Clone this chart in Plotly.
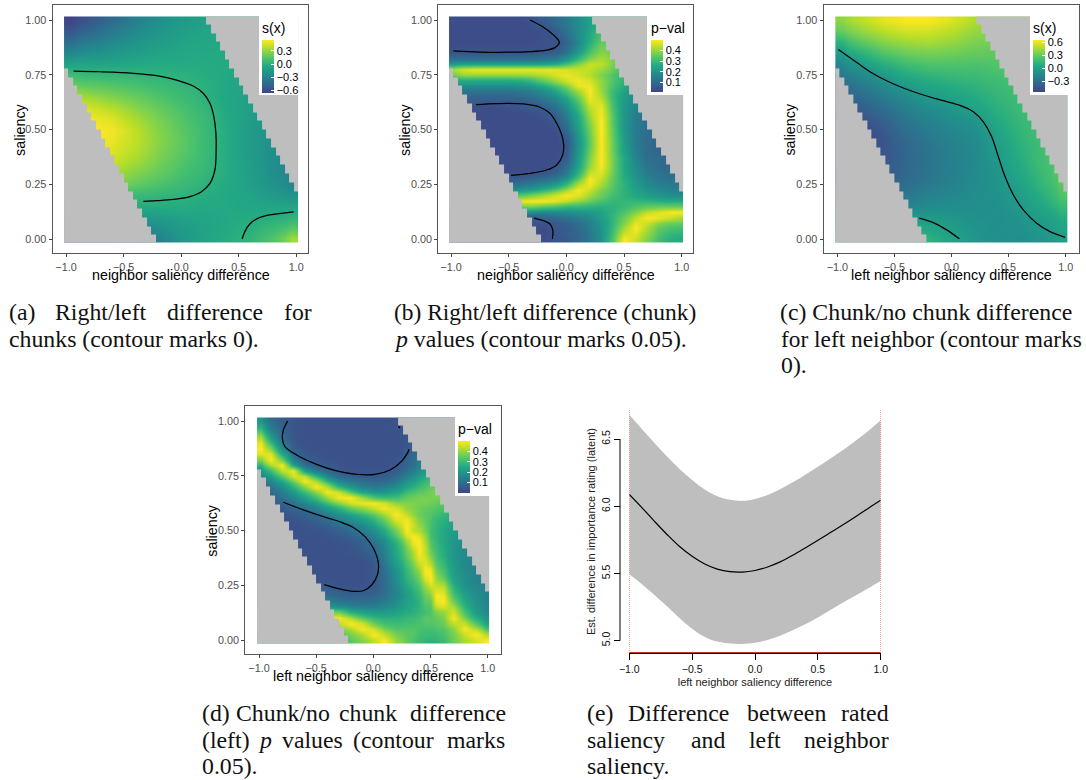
import plotly.graph_objects as go

# ---------- data ----------
x_ticks = [-1.0, -0.5, 0.0, 0.5, 1.0]
y_ticks = [0.0, 0.25, 0.5, 0.75, 1.0]

# smooth surfaces: columns x=-1..1 (0.2), rows y=1..0 (0.05)
x_s = [-1, -.8, -.6, -.4, -.2, 0, .2, .4, .6, .8, 1]
y_s = [1, .95, .9, .85, .8, .75, .7, .65, .6, .55, .5, .45, .4, .35, .3, .25, .2, .15, .1, .05, 0]
z_a = [
[-.66,-.55,-.43,-.31,-.21,-.15,-.10,-.08,-.08,-.08,-.08],
[-.55,-.45,-.34,-.25,-.17,-.12,-.08,-.07,-.07,-.07,-.07],
[-.41,-.33,-.25,-.18,-.13,-.09,-.06,-.05,-.06,-.06,-.06],
[-.26,-.21,-.16,-.12,-.08,-.06,-.05,-.05,-.05,-.05,-.05],
[-.09,-.08,-.07,-.05,-.04,-.04,-.04,-.05,-.06,-.06,-.06],
[.08,.05,.04,.03,.01,.0,-.03,-.05,-.07,-.08,-.08],
[.22,.18,.15,.11,.07,.03,-.01,-.06,-.09,-.10,-.10],
[.38,.33,.26,.20,.13,.07,.00,-.07,-.11,-.13,-.13],
[.50,.45,.38,.28,.19,.11,.03,-.06,-.12,-.15,-.16],
[.56,.53,.47,.35,.24,.14,.05,-.05,-.13,-.18,-.20],
[.58,.56,.52,.40,.27,.16,.06,-.04,-.14,-.20,-.24],
[.58,.56,.50,.40,.28,.17,.06,-.04,-.14,-.22,-.27],
[.56,.54,.47,.38,.26,.16,.06,-.04,-.14,-.23,-.29],
[.54,.50,.42,.33,.23,.13,.05,-.04,-.13,-.23,-.30],
[.50,.44,.35,.26,.18,.10,.03,-.04,-.12,-.22,-.30],
[.40,.33,.25,.18,.12,.06,.0,-.05,-.11,-.20,-.27],
[.25,.18,.12,.06,.03,.01,-.03,-.05,-.09,-.15,-.19],
[.08,.03,-.02,-.04,-.03,-.03,-.05,-.05,-.07,-.08,-.08],
[-.1,-.12,-.14,-.15,-.13,-.09,-.08,-.05,-.04,-.02,.01],
[-.28,-.3,-.3,-.28,-.22,-.14,-.09,-.04,-.01,.06,.15],
[-.4,-.42,-.4,-.36,-.3,-.16,-.08,-.03,.02,.14,.33],
]
z_c = [
[.40,.50,.60,.65,.65,.58,.48,.42,.40,.40,.40],
[.30,.41,.50,.56,.56,.50,.42,.38,.36,.36,.36],
[.12,.27,.38,.44,.46,.42,.36,.33,.33,.33,.33],
[-.02,.11,.24,.32,.35,.33,.30,.29,.29,.30,.30],
[-.14,-.03,.09,.19,.24,.24,.23,.25,.26,.27,.27],
[-.24,-.14,-.04,.07,.13,.16,.18,.21,.23,.25,.25],
[-.32,-.24,-.13,-.03,.04,.08,.12,.17,.21,.23,.24],
[-.40,-.32,-.22,-.12,-.04,.02,.07,.14,.19,.22,.24],
[-.46,-.39,-.30,-.19,-.11,-.05,.02,.11,.18,.22,.24],
[-.50,-.46,-.37,-.25,-.17,-.11,-.05,.07,.16,.22,.24],
[-.54,-.52,-.42,-.29,-.21,-.15,-.10,.03,.14,.21,.24],
[-.54,-.52,-.44,-.33,-.24,-.17,-.13,.0,.12,.21,.26],
[-.54,-.52,-.44,-.34,-.26,-.19,-.14,-.02,.10,.20,.27],
[-.52,-.5,-.44,-.34,-.26,-.19,-.14,-.04,.08,.20,.28],
[-.5,-.48,-.40,-.33,-.25,-.19,-.13,-.06,.05,.18,.29],
[-.45,-.42,-.36,-.30,-.23,-.17,-.13,-.07,.02,.15,.28],
[-.38,-.35,-.30,-.24,-.18,-.15,-.12,-.08,-.01,.10,.25],
[-.28,-.25,-.22,-.17,-.12,-.11,-.11,-.09,-.04,.06,.17],
[-.15,-.13,-.1,-.05,-.03,-.06,-.09,-.10,-.07,.0,.08],
[.05,.05,.05,.06,.05,-.02,-.07,-.10,-.08,-.04,.03],
[.2,.2,.2,.17,.12,.02,-.05,-.1,-.1,-.06,-.01],
]

# p-value surfaces in percent: columns x=-1..1 (0.1), rows y=1..0 (0.025)
x_p = [-1, -.9, -.8, -.7, -.6, -.5, -.4, -.3, -.2, -.1, 0, .1, .2, .3, .4, .5, .6, .7, .8, .9, 1]
y_p = [1, .975, .95, .925, .9, .875, .85, .825, .8, .775, .75, .725, .7, .675, .65, .625, .6, .575, .55, .525, .5,
       .475, .45, .425, .4, .375, .35, .325, .3, .275, .25, .225, .2, .175, .15, .125, .1, .075, .05, .025, 0]
z_b = [
[3,3,3,3,3,3,3,5,7,10,14,19,24,28,28,28,28,28,28,28,28],
[3,3,3,3,3,3,3,4,5,9,13,18,24,29,30,30,30,30,30,30,30],
[3,3,3,3,3,3,3,3,4,6,12,18,25,31,32,32,32,32,32,32,32],
[3,3,3,3,3,3,3,3,4,5,11,18,26,33,34,34,34,34,34,34,34],
[3,3,3,3,3,3,3,3,4,4,8,17,27,35,36,35,35,35,35,35,35],
[4,4,4,4,4,4,4,4,4,5,10,19,30,37,37,36,35,35,35,35,35],
[5,5,5,5,5,5,5,5,6,7,13,23,33,39,37,35,34,34,34,34,34],
[11,11,11,11,11,11,11,11,12,14,20,29,38,42,38,35,32,32,32,32,32],
[22,24,24,24,24,24,24,24,24,26,32,39,45,44,38,33,30,30,30,30,30],
[42,46,48,48,48,48,48,48,48,48,46,45,44,41,36,31,28,28,28,28,28],
[36,40,40,40,40,40,40,41,43,46,49,46,43,38,33,29,26,26,26,26,26],
[26,26,26,26,26,26,27,30,35,41,46,49,46,40,33,28,24,23,23,23,23],
[18,18,18,18,18,18,19,21,25,31,38,48,49,40,32,26,22,21,21,21,21],
[12,12,12,12,12,12,13,15,18,24,32,41,50,41,30,24,20,19,19,19,19],
[8,8,8,8,8,8,9,11,14,18,26,36,49,43,30,22,18,17,17,17,17],
[6,6,6,6,6,6,7,8,11,15,22,33,47,46,31,21,17,15,15,15,15],
[3,3,3,3,3,4,5,6,7,11,19,30,44,48,32,21,16,14,14,14,14],
[3,3,3,3,3,3,3,4,5,8,16,27,42,49,33,21,15,13,13,13,13],
[3,3,3,3,3,3,3,3,4,6,14,25,40,50,34,21,14,12,12,12,12],
[3,3,3,3,3,3,3,3,3,5,12,24,38,50,34,21,14,11,11,11,11],
[3,3,3,3,3,3,3,3,3,4,10,23,37,50,35,21,14,11,10,10,10],
[3,3,3,3,3,3,3,3,3,3,7,21,36,50,35,22,14,10,10,10,10],
[3,3,3,3,3,3,3,3,3,3,6,20,35,50,36,22,14,10,9,9,9],
[3,3,3,3,3,3,3,3,3,3,5,20,35,50,36,23,14,10,9,9,9],
[3,3,3,3,3,3,3,3,3,3,6,21,36,50,36,23,15,10,9,9,9],
[3,3,3,3,3,3,3,3,3,3,7,22,38,50,37,25,16,11,10,9,9],
[3,3,3,3,3,3,3,3,3,4,9,23,39,50,37,25,17,12,10,9,9],
[3,3,3,3,3,3,3,3,3,5,12,25,41,49,37,25,18,13,10,9,9],
[4,4,4,4,4,4,4,5,6,8,15,28,45,47,36,26,19,14,12,11,11],
[6,6,6,6,6,6,7,9,11,14,21,35,50,44,35,27,21,16,13,12,12],
[11,11,11,11,11,11,13,15,18,22,30,43,49,42,34,28,22,18,15,14,13],
[19,19,19,19,19,19,21,24,28,34,42,50,45,38,33,28,24,20,18,16,15],
[33,33,33,33,33,33,35,38,42,46,50,47,41,36,31,28,25,23,21,19,19],
[47,47,47,47,47,48,49,50,50,48,44,40,36,32,29,29,29,28,27,26,26],
[34,34,34,34,34,35,36,37,34,32,29,29,28,27,28,30,33,35,36,36,36],
[19,19,19,19,19,20,20,18,17,18,19,20,21,24,28,33,38,44,47,50,50],
[10,10,10,10,10,10,10,6,8,10,12,15,18,23,29,36,44,50,48,45,42],
[5,5,5,5,5,5,5,4,5,6,8,11,15,21,29,38,48,45,39,36,36],
[3,3,3,3,3,3,3,3,3,5,7,10,14,20,30,42,50,42,35,32,31],
[3,3,3,3,3,3,3,3,3,5,7,9,13,20,31,46,47,40,33,29,28],
[3,3,3,3,3,3,3,3,3,5,6,9,13,20,33,50,45,38,31,27,26],
]
z_d_base = [
[20,10,6,4,3,3,3,3,3,3,3,3,3,4,5,7,9,11,12,12,12],
[26,13,7,4,3,3,3,3,3,3,3,3,4,4,6,9,12,14,15,15,15],
[34,17,8,4,3,3,3,3,3,3,3,3,3,4,7,11,15,18,19,19,19],
[42,23,10,4,3,3,3,3,3,3,3,3,3,4,8,13,17,21,23,23,23],
[48,30,13,5,3,3,3,3,3,3,3,3,3,4,9,15,20,24,26,26,26],
[50,38,18,6,4,3,3,3,3,3,3,3,3,5,11,17,23,26,28,28,28],
[47,48,25,9,5,4,3,3,3,3,3,3,3,6,12,19,25,28,30,30,30],
[38,50,36,14,6,5,4,3,3,3,3,3,4,7,14,21,27,30,32,32,32],
[28,42,50,22,10,6,5,4,3,3,3,3,4,8,15,23,29,32,33,33,33],
[20,30,44,48,22,12,8,5,4,4,4,4,6,11,18,26,32,35,35,35,35],
[15,22,34,47,44,28,16,9,7,6,5,6,9,15,22,29,34,37,37,37,37],
[11,16,25,37,50,42,27,16,12,10,8,9,13,19,26,32,36,37,37,37,37],
[8,12,18,28,39,50,42,27,20,15,13,14,18,24,30,35,38,37,36,35,35],
[6,9,14,21,30,39,50,46,33,24,20,20,24,30,34,37,38,36,34,33,33],
[5,7,11,16,23,31,41,49,50,41,33,30,31,35,37,37,37,34,32,31,31],
[4,5,7,11,16,22,31,39,46,49,50,46,39,38,37,36,34,32,30,29,29],
[3,4,5,8,11,15,21,27,34,39,44,49,46,40,36,34,32,29,27,26,26],
[3,3,4,5,7,10,14,19,24,29,35,42,50,44,36,33,29,27,25,24,24],
[3,3,3,4,5,7,10,14,18,22,28,36,47,49,38,32,27,25,23,22,22],
[3,3,3,3,4,5,7,10,13,17,23,31,42,50,40,31,26,23,21,20,20],
[3,3,3,3,3,4,5,7,10,13,18,26,37,50,42,31,25,22,20,19,19],
[3,3,3,3,3,3,4,5,7,10,15,22,33,46,47,31,25,21,19,18,18],
[3,3,3,3,3,3,3,4,5,7,11,18,28,40,50,33,25,20,18,17,17],
[3,3,3,3,3,3,3,3,4,6,9,16,26,37,50,34,26,20,17,16,16],
[3,3,3,3,3,3,3,3,4,5,8,15,25,35,50,36,26,20,17,15,15],
[3,3,3,3,3,3,3,3,3,4,6,14,24,33,48,39,27,20,17,15,14],
[3,3,3,3,3,3,3,3,3,3,5,12,22,31,45,43,29,21,17,15,14],
[3,3,3,3,3,3,3,3,3,3,5,11,20,29,41,48,31,22,17,15,14],
[3,3,3,3,3,3,3,3,3,3,5,10,19,28,38,50,33,22,18,15,14],
[3,3,3,3,3,3,3,3,3,3,5,10,18,27,36,50,37,24,18,15,14],
[5,5,5,5,5,5,5,4,3,3,5,10,17,25,33,47,42,26,19,16,15],
[8,8,8,8,8,8,7,6,5,5,6,10,16,23,31,42,46,29,21,17,15],
[12,12,12,12,12,11,10,8,7,7,8,11,16,22,29,38,49,32,23,18,15],
[18,18,18,18,18,17,15,12,11,10,11,14,18,23,28,35,50,36,25,19,16],
[27,27,27,27,27,25,23,20,16,15,15,17,20,24,28,33,46,42,28,20,16],
[40,40,40,40,40,40,38,37,28,24,22,22,24,26,29,33,40,46,32,22,17],
[48,48,48,48,50,50,50,50,43,34,29,27,27,29,31,33,37,50,37,26,20],
[42,42,42,42,44,45,45,44,50,46,36,31,30,31,32,33,36,44,45,33,24],
[35,35,35,35,37,38,38,38,42,50,46,37,33,33,32,31,33,39,50,43,32],
[30,30,30,30,32,33,33,33,37,42,50,44,37,34,31,30,32,37,45,50,43],
[26,26,26,26,28,29,29,30,34,38,44,50,40,35,30,27,30,36,42,46,50],
]
# extra readings for panel (d) along its diagonal ridge: columns x=.35, .45, .55, same rows
x_d_extra = [.35, .45, .55]
z_d_extra = [
[6,8,10],[5,7,10],[5,9,13],[6,10,15],[6,12,17],[8,14,20],[9,15,22],[10,17,24],[11,19,26],[14,22,29],
[18,25,31],[22,29,34],[27,32,36],[32,35,37],[36,37,37],[38,37,35],[38,35,33],[39,34,31],[43,35,29],[45,36,28],
[44,37,28],[50,40,28],[49,42,29],[46,44,30],[42,44,31],[41,46,32],[38,47,34],[35,50,36],[33,49,39],[31,45,41],
[29,41,44],[27,38,47],[26,35,50],[25,34,48],[26,32,44],[27,31,37],[30,34,35],[31,33,34],[33,31,32],[33,30,30],[32,28,28],
]
x_d = sorted(x_p + x_d_extra)
z_d = [b[:14] + [e[0], b[14], e[1], b[15], e[2]] + b[16:] for b, e in zip(z_d_base, z_d_extra)]

# grey no-data region: per row y=0,0.04,...,1, last grey x on the left / first grey x on the right
mask_y = [i * 0.04 for i in range(26)]
mask_x = [-1 + i * 0.04 for i in range(51)]
mask_left = [-.24,-.28,-.32,-.36,-.40,-.44,-.48,-.52,-.56,-.60,-.64,-.68,-.72,-.76,-.80,-.84,-.88,-.92,-.96,-1.0,
             None,None,None,None,None,None]
mask_right = [None,None,None,None,None,None,1.0,.96,.92,.88,.84,.80,.76,.72,.68,.64,.60,.56,.52,.48,.44,.40,.36,.32,.28,.24]

# contour lines
a_c1x = [-.934,-.703,-.414,-.212,-.039,.105,.192,.25,.284,.302,.304,.293,.25,.177,.077,-.068,-.212,-.328]
a_c1y = [.767,.764,.757,.746,.726,.699,.666,.62,.559,.483,.407,.316,.255,.217,.195,.182,.176,.173]
a_c2x = [.53,.553,.596,.668,.769,.885,.977]
a_c2y = [.002,.035,.07,.096,.111,.119,.125]
b_c1x = [-.315,-.199,-.113,-.061,-.098,-.171,-.315,-.517,-.749,-.98]
b_c1y = [1.0,.967,.932,.898,.874,.863,.856,.853,.854,.859]
b_c2x = [-.783,-.604,-.373,-.228,-.142,-.084,-.04,-.023,-.032,-.084,-.171,-.315,-.48]
b_c2y = [.614,.619,.617,.602,.574,.529,.476,.43,.384,.339,.316,.301,.292]
b_c3x = [-.28,-.199,-.142,-.118,-.121]
b_c3y = [.097,.085,.07,.043,.002]
c_c1x = [-.991,-.86,-.714,-.568,-.422,-.247,-.072,.074,.191,.279,.352,.41,.469,.542,.629,.746,.863,.994]
c_c1y = [.866,.818,.764,.723,.69,.658,.632,.611,.582,.536,.468,.377,.286,.202,.134,.073,.035,.009]
c_c2x = [-.282,-.159,-.042,.069]
c_c2y = [.097,.076,.043,.002]
d_c1x = [-.749,-.787,-.796,-.773,-.671,-.496,-.321,-.146,.015,.146,.248,.297,.312]
d_c1y = [1.0,.959,.921,.883,.845,.802,.772,.756,.756,.776,.817,.852,.871]
d_c2x = [.219,.233]
d_c2y = [.976,.968]
d_c3x = [-.787,-.612,-.437,-.292,-.175,-.073,0,.044,.035,-.015,-.087,-.175,-.292,-.429]
d_c3y = [.629,.594,.563,.54,.514,.472,.419,.35,.297,.251,.225,.222,.233,.253]

# panel (e)
e_x = [-1,-.9,-.8,-.7,-.6,-.5,-.4,-.3,-.2,-.1,0,.1,.2,.3,.4,.5,.6,.7,.8,.9,1]
e_mean = [6.088,5.99,5.888,5.79,5.70,5.627,5.57,5.532,5.513,5.51,5.522,5.548,5.586,5.635,5.69,5.747,5.804,5.862,5.922,5.984,6.044]
e_upper = [6.68,6.575,6.47,6.37,6.277,6.195,6.125,6.075,6.048,6.04,6.054,6.084,6.127,6.178,6.235,6.294,6.355,6.418,6.487,6.56,6.64]
e_lower = [5.493,5.42,5.34,5.255,5.166,5.088,5.027,4.993,4.978,4.975,4.985,5.005,5.037,5.078,5.122,5.172,5.228,5.283,5.336,5.39,5.444]
e_rug_x = [-1, 1]
e_rug_y = [4.908, 4.908]
e_band_y = [4.908, 6.716]
e_yticks = [5, 5.5, 6, 6.5]

# captions: (text, left px, baseline px, size)
FS = 23.8
captions = [
("(a)",9.3,320,FS),("Right/left",55,320,FS),("difference",166.7,320,FS),("for",284,320,FS),
("chunks (contour marks 0).",9.3,346.7,FS),
("(b) Right/left difference (chunk)",394.3,320,23.45),
("<i>p</i> values (contour marks 0.05).",394.3,346.7,FS),
("(c) Chunk/no chunk difference",780,320,FS),
("for left neighbor (contour marks",780.7,346.7,23.35),
("0).",780.7,372.5,FS),
("(d)",201.7,721,FS),("Chunk/no",235.7,721,FS),("chunk",339,721,FS),("difference",410,721,FS),
("(left)",201.7,747.7,FS),("<i>p</i>",258.3,747.7,FS),("values",282.3,747.7,FS),("(contour",353.3,747.7,FS),("marks",446.7,747.7,FS),
("0.05).",201.7,773.5,FS),
("(e)",587.3,721,FS),("Difference",627.7,721,FS),("between",746.7,721,FS),("rated",841,721,FS),
("saliency",587.3,747.7,FS),("and",690.7,747.7,FS),("left",749,747.7,FS),("neighbor",804,747.7,FS),
("saliency.",587.3,773.5,FS),
]

# ---------- layout helpers ----------
W, H = 1086, 780
VIR = [[0,'#414487'],[.125,'#355F8D'],[.25,'#2A788E'],[.375,'#21918C'],[.5,'#22A884'],
       [.625,'#44BF70'],[.75,'#7AD151'],[.875,'#BDDF26'],[1,'#FDE725']]
GREY = 'rgb(190,190,190)'
SANS = 'Liberation Sans'
SERIF = 'Liberation Serif'
X_LO, X_HI, Y_LO, Y_HI = -1.017, 1.012, -0.016, 1.016

def edges(c, lo, hi):
    c = sorted(c)
    return [lo] + [(c[i] + c[i+1]) / 2 for i in range(len(c) - 1)] + [hi]

fig = go.Figure()
shapes = []
ann = []

def label(text, xp, yp, size, color='black', angle=0):
    ann.append(dict(text=text, x=xp / W, y=1 - yp / H, xref='paper', yref='paper', xanchor='center', yanchor='middle',
                    showarrow=False, borderpad=0, borderwidth=0, textangle=angle,
                    font=dict(family=SANS, size=size, color=color)))

def panel(idx, box, xpx, ypx, xs, ys, z, zscale, zr, ticks, title, cbox, white, xt, xtpos, ytpos, contours):
    l, t, r, b = box
    sx = (xpx[1] - xpx[0]) / 2
    sy = (ypx[0] - ypx[1])
    xa, ya = f'x{idx}', f'y{idx}'
    xr = [-1 + (l - xpx[0]) / sx, 1 + (r - xpx[1]) / sx]
    yr = [(ypx[0] - b) / sy, 1 + (ypx[1] - t) / sy]
    zz = [[v * zscale for v in row] for row in z[::-1]]
    fig.add_trace(go.Heatmap(
        x=edges(xs, X_LO, X_HI), y=edges(ys, Y_LO, Y_HI), z=zz, xaxis=xa, yaxis=ya,
        zmin=zr[0], zmax=zr[1], colorscale=VIR, zsmooth='best', hoverinfo='skip',
        colorbar=dict(
            title=dict(text=title, side='top', font=dict(family=SANS, size=14, color='black')),
            x=cbox[0] / W, xanchor='left', xpad=0, y=1 - cbox[1] / H, yanchor='top', ypad=0,
            lenmode='pixels', len=cbox[2], thickness=12, thicknessmode='pixels', outlinewidth=0,
            tickvals=ticks, tickformat='.1f', ticks='inside', ticklen=3, tickcolor='white', tickwidth=1,
            tickprefix='\u00a0\u2009',
            tickfont=dict(family=SANS, size=11, color='black'))))
    mz = []
    for j in range(len(mask_y)):
        row = []
        for xv in mask_x:
            g = (mask_left[j] is not None and xv <= mask_left[j] + 1e-6) or \
                (mask_right[j] is not None and xv >= mask_right[j] - 1e-6)
            row.append(1 if g else 0)
        mz.append(row)
    fig.add_trace(go.Heatmap(
        x=edges(mask_x, X_LO, X_HI), y=edges(mask_y, Y_LO, Y_HI), z=mz, xaxis=xa, yaxis=ya,
        zmin=0, zmax=1, showscale=False, zsmooth=False, hoverinfo='skip',
        colorscale=[[0,'rgba(190,190,190,0)'],[1,'rgba(190,190,190,1)']]))
    for cx, cy in contours:
        fig.add_trace(go.Scatter(x=cx, y=cy, mode='lines', xaxis=xa, yaxis=ya, showlegend=False, hoverinfo='skip',
                                 line=dict(color='black', width=1.25, shape='spline')))
    common = dict(showline=True, mirror=True, linecolor='#555555', linewidth=1.3, ticks='outside', ticklen=3,
                  tickcolor='#444444', tickwidth=1, showgrid=False, zeroline=False, automargin=False,
                  tickfont=dict(family=SANS, size=10.8, color='#4D4D4D'))
    fig.update_layout({
        f'xaxis{idx}': dict(domain=[l / W, r / W], range=xr, anchor=ya, tickvals=x_ticks, tickformat='.1f',
                            ticklabelstandoff=1, **common),
        f'yaxis{idx}': dict(domain=[1 - b / H, 1 - t / H], range=yr, anchor=xa, tickvals=y_ticks, tickformat='.2f', **common),
    })
    label(xt, xtpos[0], xtpos[1], 14.3)
    label('saliency', ytpos[0], ytpos[1], 14.3, angle=-90)
    shapes.append(dict(type='rect', xref='paper', yref='paper', layer='above', line=dict(width=0), fillcolor='white',
                       x0=white[0] / W, x1=white[2] / W, y0=1 - white[3] / H, y1=1 - white[1] / H))

panel(1, (52.7, 5.3, 308, 253), (66, 296.3), (239.3, 20), x_s, y_s, z_a, 1, (-.66, .55), [-.6,-.3,0,.3], 's(x)',
      (262, 19, 74), (259, 16, 298, 95), 'neighbor saliency difference', (181, 275), (19.3, 129.6),
      [(a_c1x,a_c1y),(a_c2x,a_c2y)])
panel(2, (438.3, 5.3, 693.3, 253), (451, 681.7), (239.3, 20), x_p, y_p, z_b, .01, (.01, .5), [.1,.2,.3,.4], 'p\u2212val',
      (651, 19, 73), (647, 16, 683.5, 95), 'neighbor saliency difference', (566.3, 275), (404.3, 129.6),
      [(b_c1x,b_c1y),(b_c2x,b_c2y),(b_c3x,b_c3y)])
panel(3, (823.7, 5.3, 1079.3, 253), (837.3, 1065.7), (239.3, 20), x_s, y_s, z_c, 1, (-.54, .66), [-.3,0,.3,.6], 's(x)',
      (1033, 19, 73), (1030, 16, 1068.5, 95), 'left neighbor saliency difference', (951.5, 275), (790, 129.6),
      [(c_c1x,c_c1y),(c_c2x,c_c2y)])
panel(4, (245.3, 406.3, 501.3, 654), (259, 487.7), (640, 421), x_d, y_p, z_d, .01, (.0, .5), [.1,.2,.3,.4], 'p\u2212val',
      (458, 420, 73), (455, 417, 491, 496), 'left neighbor saliency difference', (373, 676), (211.7, 530),
      [(d_c1x,d_c1y),(d_c2x,d_c2y),(d_c3x,d_c3y)])

# panel (e): R base style
common_e = dict(xaxis='x5', yaxis='y5', showlegend=False, hoverinfo='skip', cliponaxis=False)
fig.add_trace(go.Scatter(x=e_x, y=e_lower, mode='lines', line=dict(width=0, color=GREY, shape='spline'), **common_e))
fig.add_trace(go.Scatter(x=e_x, y=e_upper, mode='lines', line=dict(width=0, color=GREY, shape='spline'),
                         fill='tonexty', fillcolor=GREY, **common_e))
for xv in e_rug_x:
    fig.add_trace(go.Scatter(x=[xv, xv], y=e_band_y, mode='lines', line=dict(color='#FF3030', width=0.8, dash='1px,1px'), **common_e))
fig.add_trace(go.Scatter(x=e_x, y=e_mean, mode='lines', line=dict(color='black', width=1.2, shape='spline'), **common_e))
fig.add_trace(go.Scatter(x=e_rug_x, y=e_rug_y, mode='lines', line=dict(color='#C62F2F', width=2), **common_e))
efont = dict(family=SANS, size=10.5, color='#111111')
e_title = dict(family=SANS, size=11, color='#222222')
fig.update_layout(
    xaxis5=dict(domain=[629.3 / W, 880.7 / W], range=[-1, 1], anchor='y5', showline=True,
                linecolor='black', linewidth=1, ticks='outside', ticklen=6, tickcolor='black', tickwidth=1,
                tickvals=x_ticks, tickformat='.1f', tickfont=efont, showgrid=False, zeroline=False, automargin=False,
                title=dict(text='left neighbor saliency difference', standoff=4, font=e_title)),
    yaxis5=dict(domain=[1 - 653 / H, 1 - 410 / H], range=[e_rug_y[0], e_band_y[1]], anchor='free', position=620 / W,
                showline=False, ticks='outside', ticklen=6, tickcolor='black', tickwidth=1,
                tickvals=e_yticks, tickformat='.1f', tickangle=-90, tickfont=efont, showgrid=False,
                zeroline=False, automargin=False,
                title=dict(text='Est. difference in importance rating (latent)', standoff=0, font=e_title)),
)
shapes.append(dict(type='line', xref='paper', yref='y5', x0=620 / W, x1=620 / W, y0=e_yticks[0], y1=e_yticks[-1],
                   line=dict(color='black', width=1)))

for text, xp, base, fs in captions:
    ann.append(dict(text=text, x=xp / W, y=1 - (base + 0.216 * fs) / H, xref='paper', yref='paper', xanchor='left',
                    yanchor='bottom', showarrow=False, borderpad=0, borderwidth=0, align='left',
                    font=dict(family=SERIF, size=fs, color='#111111')))

fig.update_layout(width=W, height=H, margin=dict(l=0, r=0, t=0, b=0, pad=0, autoexpand=False), paper_bgcolor='white',
                  plot_bgcolor='rgba(0,0,0,0)', showlegend=False, shapes=shapes, annotations=ann,
                  font=dict(family=SANS))
fig.write_html("out.html", config=dict(displayModeBar=False), post_script="document.body.style.margin='0';")
